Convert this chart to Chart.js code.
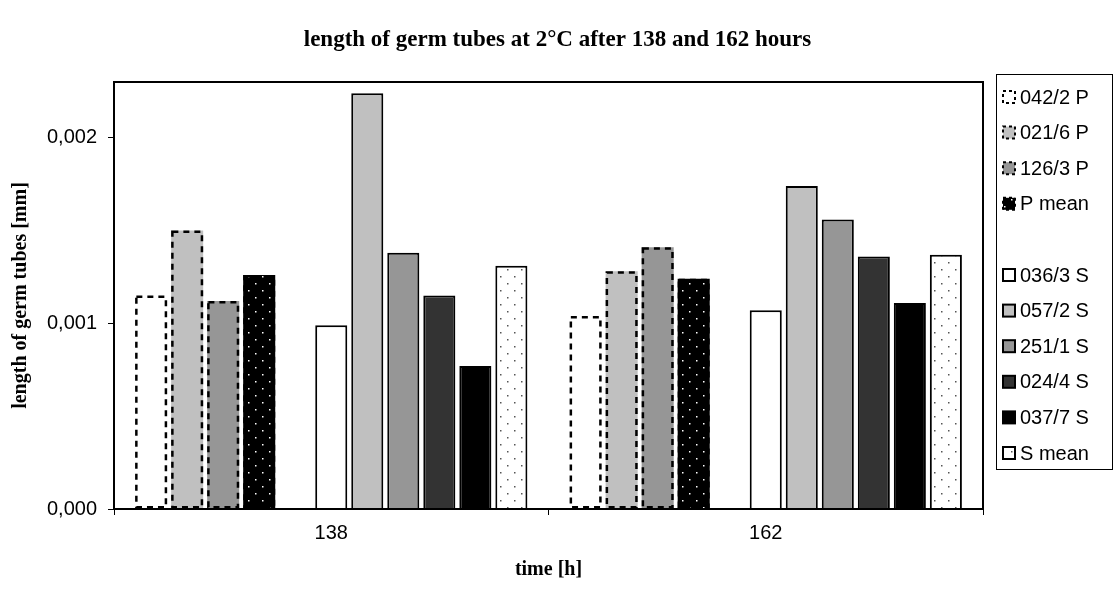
<!DOCTYPE html>
<html><head><meta charset="utf-8">
<script src="https://cdn.jsdelivr.net/npm/chart.js@4.4.1/dist/chart.umd.min.js"></script>
<style>html,body{margin:0;padding:0;background:#fff}#wrap{width:1115px;height:590px}</style>
</head><body><div id="wrap"><canvas id="c" width="1115" height="590"></canvas></div>
<script>
// ---- data ----
const categories = ['138', '162'];
const seriesNames = ['042/2 P', '021/6 P', '126/3 P', 'P mean', '', '036/3 S', '057/2 S', '251/1 S', '024/4 S', '037/7 S', 'S mean'];
const s042_2P = [0.00115, 0.00104];
const s021_6P = [0.00150, 0.00128];
const s126_3P = [0.00112, 0.00141];
const sPmean  = [0.00126, 0.00124];
const sBlank  = [null, null];
const s036_3S = [0.00099, 0.00107];
const s057_2S = [0.00224, 0.00174];
const s251_1S = [0.00138, 0.00156];
const s024_4S = [0.00115, 0.00136];
const s037_7S = [0.00077, 0.00111];
const sSmean  = [0.00131, 0.00137];
const yTickValues = [0, 0.001, 0.002];
const yTickLabels = ['0,000', '0,001', '0,002'];
const yMax = 0.0023;

// ---- styling helpers ----
function dotPattern(bg, dot, size, pts, r) {
  const c = document.createElement('canvas');
  c.width = size; c.height = size;
  const g = c.getContext('2d');
  g.fillStyle = bg; g.fillRect(0, 0, size, size);
  g.fillStyle = dot;
  pts.forEach(p => g.fillRect(p[0], p[1], r, r));
  return g.createPattern(c, 'repeat');
}
const ctx = document.getElementById('c').getContext('2d');
const patPmean = dotPattern('#000000', '#ffffff', 14, [[3, 3], [10, 10]], 1.5);
const patSmean = dotPattern('#ffffff', '#555555', 14, [[3, 3], [10, 10]], 1.5);

const seriesData = [s042_2P, s021_6P, s126_3P, sPmean, sBlank, s036_3S, s057_2S, s251_1S, s024_4S, s037_7S, sSmean];
const fills = ['#ffffff', '#c0c0c0', '#969696', patPmean, 'rgba(0,0,0,0)', '#ffffff', '#c0c0c0', '#969696', '#333333', '#000000', patSmean];
const dashed = [true, true, true, true, false, false, false, false, false, false, false];
const blank = [false, false, false, false, true, false, false, false, false, false, false];

const datasets = seriesData.map((d, i) => ({
  label: seriesNames[i],
  data: d,
  backgroundColor: fills[i],
  borderColor: '#000000',
  borderWidth: (dashed[i] || blank[i]) ? 0 : 2,
  dashedBorder: dashed[i],
  blankSeries: blank[i],
  categoryPercentage: 0.912,
  barPercentage: 0.89
}));

const serif = "'Liberation Serif', 'Times New Roman', serif";
const sans = "'Liberation Sans', Arial, sans-serif";

const dashPlugin = {
  id: 'dashPlugin',
  afterDatasetsDraw(chart) {
    const c = chart.ctx;
    chart.data.datasets.forEach((ds, i) => {
      if (!ds.dashedBorder) return;
      const meta = chart.getDatasetMeta(i);
      meta.data.forEach((bar, j) => {
        if (ds.data[j] == null) return;
        const p = bar.getProps(['x', 'y', 'base', 'width'], true);
        c.save();
        c.strokeStyle = '#000';
        c.lineWidth = 2.5;
        c.setLineDash([6, 5]);
        c.strokeRect(p.x - p.width / 2 + 1.25, p.y + 1.25, p.width - 2.5, p.base - p.y - 2.5);
        c.restore();
      });
    });
  }
};

const framePlugin = {
  id: 'framePlugin',
  afterDraw(chart) {
    const c = chart.ctx;
    const a = chart.chartArea;
    c.save();
    c.strokeStyle = '#000';
    c.lineWidth = 2;
    c.strokeRect(a.left, a.top, a.right - a.left, a.bottom - a.top);
    // legend
    const lx = 996, ly = 74, lw = 116, lh = 395;
    c.lineWidth = 1;
    c.strokeStyle = '#000';
    c.strokeRect(lx + 0.5, ly + 0.5, lw, lh);
    chart.data.datasets.forEach((ds, i) => {
      if (ds.blankSeries) return;
      const cy = 97 + i * 35.6;
      const bx = 1003, bs = 12;
      c.fillStyle = ds.backgroundColor;
      c.fillRect(bx, cy - bs / 2, bs, bs);
      c.strokeStyle = '#000';
      c.lineWidth = 2;
      if (ds.dashedBorder) c.setLineDash([3, 3]); else c.setLineDash([]);
      c.strokeRect(bx, cy - bs / 2, bs, bs);
      c.setLineDash([]);
      c.fillStyle = '#000';
      c.font = '20px ' + sans;
      c.textBaseline = 'middle';
      c.textAlign = 'left';
      c.fillText(ds.label, bx + bs + 5, cy + 1);
    });
    c.restore();
  }
};

new Chart(ctx, {
  type: 'bar',
  data: { labels: categories, datasets: datasets },
  options: {
    responsive: false,
    animation: false,
    devicePixelRatio: 1,
    layout: { padding: 0 },
    plugins: {
      legend: { display: false },
      tooltip: { enabled: false },
      title: {
        display: true,
        text: 'length of germ tubes at 2°C after 138 and 162 hours',
        color: '#000',
        font: { family: serif, size: 23, weight: 'bold' },
        padding: { top: 26, bottom: 28.4 }
      }
    },
    scales: {
      x: {
        grid: { display: true, drawOnChartArea: false, drawTicks: true, tickLength: 6, color: '#000', offset: true },
        border: { display: false },
        ticks: { color: '#000', font: { family: sans, size: 20 }, padding: 6, maxRotation: 0 },
        title: { display: true, text: 'time [h]', color: '#000', font: { family: serif, size: 20, weight: 'bold' }, padding: { top: 0, bottom: 8 } },
        afterFit(s) { s.height = 81; }
      },
      y: {
        min: 0, max: yMax,
        grid: { display: true, drawOnChartArea: false, drawTicks: true, tickLength: 6, color: '#000' },
        border: { display: false },
        afterBuildTicks(axis) { axis.ticks = yTickValues.map(v => ({ value: v })); },
        ticks: {
          color: '#000', font: { family: sans, size: 20 }, padding: 11,
          callback(v) { const k = yTickValues.indexOf(v); return k >= 0 ? yTickLabels[k] : ''; }
        },
        title: { display: true, text: 'length of germ tubes [mm]', color: '#000', font: { family: serif, size: 20, weight: 'bold' }, padding: { top: 9, bottom: 0 } },
        afterFit(s) { s.width = 114; }
      },
      yRight: {
        position: 'right',
        display: true,
        grid: { display: false },
        border: { display: false },
        ticks: { display: false },
        afterFit(s) { s.width = 132; }
      }
    }
  },
  plugins: [dashPlugin, framePlugin]
});
</script>
</body></html>
